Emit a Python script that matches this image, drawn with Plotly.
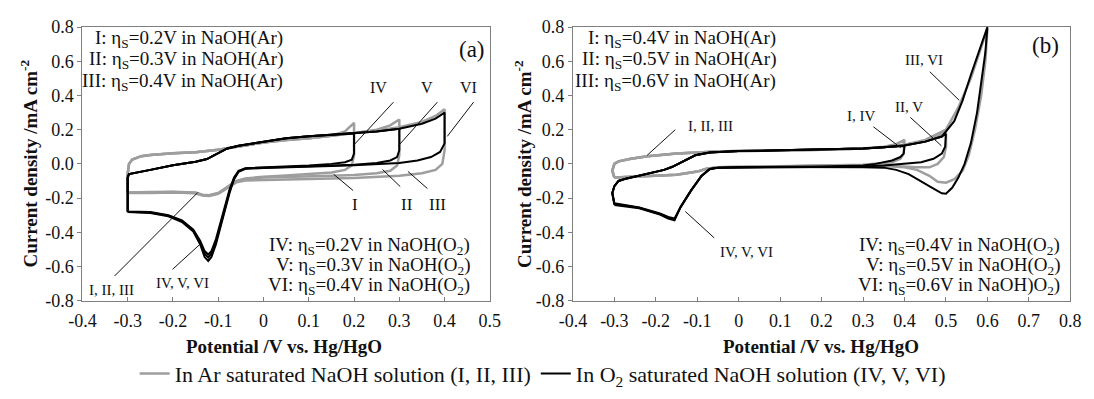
import plotly.graph_objects as go

GRAY = "#9e9e9e"
BLACK = "#000000"
FRAME = "#7f7f7f"
FONT = "Liberation Serif"

# ---------------- Panel (a) data : potential E (V), current j (mA cm-2) ----------------
a_I_E = [-0.30, -0.30, -0.297, -0.29, -0.27, -0.25, -0.20, -0.15, -0.10, -0.05, 0.00, 0.05, 0.10, 0.15, 0.18, 0.20,
         0.20, 0.195, 0.18, 0.15, 0.10, 0.05, 0.00, -0.04, -0.06, -0.08, -0.10, -0.12, -0.135, -0.15, -0.20, -0.25, -0.30]
a_I_j = [-0.167, -0.06, 0.00, 0.025, 0.045, 0.052, 0.062, 0.068, 0.082, 0.105, 0.125, 0.14, 0.15, 0.165, 0.19, 0.24,
         0.05, -0.01, -0.035, -0.05, -0.06, -0.068, -0.075, -0.085, -0.10, -0.135, -0.17, -0.183, -0.18, -0.168, -0.163, -0.165, -0.167]

a_II_E = [-0.30, -0.30, -0.297, -0.29, -0.27, -0.25, -0.20, -0.15, -0.10, -0.05, 0.00, 0.05, 0.10, 0.15, 0.20, 0.25, 0.28, 0.30,
          0.30, 0.295, 0.28, 0.25, 0.20, 0.15, 0.10, 0.05, 0.00, -0.04, -0.06, -0.08, -0.10, -0.12, -0.135, -0.15, -0.20, -0.25, -0.30]
a_II_j = [-0.167, -0.06, 0.00, 0.025, 0.045, 0.052, 0.062, 0.068, 0.082, 0.105, 0.125, 0.14, 0.15, 0.165, 0.18, 0.20, 0.225, 0.26,
          0.05, -0.01, -0.04, -0.055, -0.065, -0.07, -0.072, -0.075, -0.08, -0.088, -0.103, -0.138, -0.172, -0.185, -0.182, -0.17, -0.165, -0.167, -0.169]

a_III_E = [-0.30, -0.30, -0.297, -0.29, -0.27, -0.25, -0.20, -0.15, -0.10, -0.05, 0.00, 0.05, 0.10, 0.15, 0.20, 0.25, 0.30, 0.35, 0.38, 0.40,
           0.40, 0.395, 0.38, 0.35, 0.30, 0.25, 0.20, 0.15, 0.10, 0.05, 0.00, -0.04, -0.06, -0.08, -0.10, -0.12, -0.135, -0.15, -0.20, -0.25, -0.30]
a_III_j = [-0.167, -0.06, 0.00, 0.025, 0.045, 0.052, 0.062, 0.068, 0.082, 0.105, 0.125, 0.14, 0.15, 0.165, 0.18, 0.195, 0.215, 0.245, 0.28, 0.32,
           0.08, 0.00, -0.035, -0.055, -0.07, -0.078, -0.082, -0.085, -0.088, -0.09, -0.092, -0.097, -0.108, -0.14, -0.175, -0.188, -0.185, -0.172, -0.168, -0.17, -0.171]

a_IV_E = [-0.30, -0.30, -0.297, -0.28, -0.25, -0.20, -0.15, -0.125, -0.10, -0.08, -0.055, -0.02, 0.00, 0.05, 0.10, 0.15, 0.20,
          0.20, 0.195, 0.18, 0.15, 0.10, 0.05, 0.00, -0.04, -0.055, -0.065, -0.075, -0.09, -0.105, -0.115, -0.122, -0.13, -0.14, -0.155, -0.18, -0.21, -0.25, -0.30]
a_IV_j = [-0.278, -0.08, -0.06, -0.05, -0.035, -0.008, 0.012, 0.028, 0.06, 0.09, 0.106, 0.12, 0.13, 0.15, 0.162, 0.17, 0.178,
          0.06, 0.025, 0.01, 0.0, -0.01, -0.015, -0.02, -0.025, -0.04, -0.08, -0.15, -0.30, -0.44, -0.51, -0.53, -0.51, -0.45, -0.385, -0.33, -0.30, -0.282, -0.278]

a_V_E = [-0.30, -0.30, -0.297, -0.28, -0.25, -0.20, -0.15, -0.125, -0.10, -0.08, -0.055, -0.02, 0.00, 0.05, 0.10, 0.15, 0.20, 0.25, 0.30,
         0.30, 0.295, 0.28, 0.25, 0.20, 0.15, 0.10, 0.05, 0.00, -0.04, -0.055, -0.065, -0.075, -0.09, -0.105, -0.115, -0.122, -0.13, -0.14, -0.155, -0.18, -0.21, -0.25, -0.30]
a_V_j = [-0.28, -0.08, -0.06, -0.05, -0.035, -0.008, 0.012, 0.028, 0.06, 0.09, 0.106, 0.12, 0.13, 0.15, 0.162, 0.17, 0.178, 0.19, 0.205,
         0.08, 0.04, 0.02, 0.005, -0.005, -0.01, -0.013, -0.017, -0.022, -0.027, -0.043, -0.085, -0.16, -0.31, -0.455, -0.525, -0.548, -0.525, -0.46, -0.39, -0.335, -0.303, -0.285, -0.28]

a_VI_E = [-0.30, -0.30, -0.297, -0.28, -0.25, -0.20, -0.15, -0.125, -0.10, -0.08, -0.055, -0.02, 0.00, 0.05, 0.10, 0.15, 0.20, 0.25, 0.30, 0.35, 0.38, 0.40,
          0.40, 0.39, 0.37, 0.34, 0.30, 0.25, 0.20, 0.15, 0.10, 0.05, 0.00, -0.04, -0.055, -0.065, -0.075, -0.09, -0.105, -0.115, -0.122, -0.13, -0.14, -0.155, -0.18, -0.21, -0.25, -0.30]
a_VI_j = [-0.282, -0.08, -0.06, -0.05, -0.035, -0.008, 0.012, 0.028, 0.06, 0.09, 0.106, 0.12, 0.13, 0.15, 0.162, 0.17, 0.178, 0.19, 0.205, 0.235, 0.265, 0.30,
          0.12, 0.07, 0.04, 0.02, 0.005, -0.003, -0.008, -0.012, -0.015, -0.019, -0.024, -0.029, -0.046, -0.09, -0.17, -0.32, -0.47, -0.545, -0.568, -0.545, -0.47, -0.395, -0.34, -0.307, -0.288, -0.282]

# ---------------- Panel (b) data ----------------
b_I_E = [-0.30, -0.305, -0.30, -0.29, -0.26, -0.22, -0.15, -0.10, -0.05, 0.00, 0.10, 0.20, 0.30, 0.35, 0.38, 0.40,
         0.398, 0.39, 0.37, 0.33, 0.30, 0.20, 0.10, 0.00, -0.05, -0.08, -0.10, -0.15, -0.20, -0.25, -0.30]
b_I_j = [-0.08, -0.04, 0.00, 0.015, 0.03, 0.045, 0.06, 0.068, 0.072, 0.075, 0.078, 0.082, 0.09, 0.10, 0.115, 0.14,
         0.06, 0.03, 0.01, 0.0, -0.005, -0.01, -0.015, -0.018, -0.02, -0.03, -0.045, -0.063, -0.07, -0.075, -0.08]

b_II_E = [-0.30, -0.305, -0.30, -0.29, -0.26, -0.22, -0.15, -0.10, -0.05, 0.00, 0.10, 0.20, 0.30, 0.35, 0.40, 0.45, 0.48, 0.50,
          0.50, 0.495, 0.48, 0.46, 0.43, 0.40, 0.35, 0.30, 0.20, 0.10, 0.00, -0.05, -0.08, -0.10, -0.15, -0.20, -0.25, -0.30]
b_II_j = [-0.08, -0.04, 0.00, 0.015, 0.03, 0.045, 0.06, 0.068, 0.072, 0.075, 0.078, 0.082, 0.09, 0.098, 0.112, 0.13, 0.16, 0.19,
          0.10, 0.04, 0.0, -0.02, -0.02, -0.015, -0.01, -0.008, -0.01, -0.015, -0.018, -0.02, -0.03, -0.045, -0.063, -0.07, -0.075, -0.08]

b_III_E = [-0.30, -0.305, -0.30, -0.29, -0.26, -0.22, -0.15, -0.10, -0.05, 0.00, 0.10, 0.20, 0.30, 0.35, 0.40, 0.45, 0.50, 0.53, 0.56, 0.58, 0.60,
           0.595, 0.585, 0.57, 0.555, 0.54, 0.52, 0.50, 0.48, 0.46, 0.43, 0.40, 0.35, 0.30, 0.20, 0.10, 0.00, -0.05, -0.08, -0.10, -0.15, -0.20, -0.25, -0.30]
b_III_j = [-0.08, -0.04, 0.00, 0.015, 0.03, 0.045, 0.06, 0.068, 0.072, 0.075, 0.078, 0.082, 0.09, 0.098, 0.112, 0.14, 0.20, 0.33, 0.50, 0.65, 0.79,
           0.60, 0.40, 0.20, 0.05, -0.04, -0.09, -0.11, -0.105, -0.07, -0.035, -0.02, -0.012, -0.01, -0.01, -0.015, -0.018, -0.02, -0.03, -0.045, -0.063, -0.07, -0.075, -0.08]

b_IV_E = [-0.30, -0.305, -0.30, -0.29, -0.27, -0.225, -0.18, -0.16, -0.13, -0.105, -0.07, 0.00, 0.10, 0.20, 0.30, 0.35, 0.40,
          0.398, 0.39, 0.37, 0.33, 0.30, 0.20, 0.10, 0.00, -0.05, -0.07, -0.09, -0.115, -0.14, -0.155, -0.17, -0.19, -0.24, -0.30]
b_IV_j = [-0.23, -0.17, -0.13, -0.10, -0.085, -0.06, -0.035, -0.017, 0.02, 0.05, 0.067, 0.075, 0.079, 0.084, 0.09, 0.097, 0.105,
          0.06, 0.04, 0.02, 0.0, -0.01, -0.016, -0.017, -0.018, -0.022, -0.03, -0.07, -0.155, -0.25, -0.32, -0.31, -0.29, -0.255, -0.23]

b_V_E = [-0.30, -0.305, -0.30, -0.29, -0.27, -0.225, -0.18, -0.16, -0.13, -0.105, -0.07, 0.00, 0.10, 0.20, 0.30, 0.35, 0.40, 0.45, 0.49, 0.50,
         0.498, 0.49, 0.47, 0.44, 0.40, 0.35, 0.30, 0.20, 0.10, 0.00, -0.05, -0.07, -0.09, -0.115, -0.14, -0.155, -0.17, -0.19, -0.24, -0.30]
b_V_j = [-0.235, -0.17, -0.13, -0.10, -0.085, -0.06, -0.035, -0.017, 0.02, 0.05, 0.067, 0.075, 0.079, 0.084, 0.09, 0.097, 0.108, 0.13, 0.16, 0.175,
         0.10, 0.06, 0.03, 0.01, 0.0, -0.01, -0.016, -0.017, -0.018, -0.019, -0.023, -0.031, -0.072, -0.157, -0.253, -0.325, -0.315, -0.293, -0.257, -0.235]

b_VI_E = [-0.30, -0.305, -0.30, -0.29, -0.27, -0.225, -0.18, -0.16, -0.13, -0.105, -0.07, 0.00, 0.10, 0.20, 0.30, 0.35, 0.40, 0.45, 0.49, 0.52, 0.54, 0.56, 0.58, 0.60,
          0.595, 0.587, 0.575, 0.56, 0.545, 0.53, 0.515, 0.50, 0.49, 0.47, 0.44, 0.41, 0.38, 0.35, 0.30, 0.20, 0.10, 0.00, -0.05, -0.07, -0.09, -0.115, -0.14, -0.155, -0.17, -0.19, -0.24, -0.30]
b_VI_j = [-0.24, -0.17, -0.13, -0.10, -0.085, -0.06, -0.035, -0.017, 0.02, 0.05, 0.067, 0.075, 0.079, 0.084, 0.09, 0.097, 0.108, 0.13, 0.16, 0.25, 0.37, 0.52, 0.66, 0.80,
          0.65, 0.50, 0.30, 0.12, 0.0, -0.08, -0.14, -0.175, -0.172, -0.145, -0.10, -0.06, -0.035, -0.022, -0.02, -0.018, -0.017, -0.018, -0.022, -0.03, -0.07, -0.155, -0.25, -0.33, -0.32, -0.297, -0.26, -0.24]

# ---------------- ticks ----------------
a_xticks = [-0.4, -0.3, -0.2, -0.1, 0.0, 0.1, 0.2, 0.3, 0.4, 0.5]
a_xlabels = ["-0.4", "-0.3", "-0.2", "-0.1", "0", "0.1", "0.2", "0.3", "0.4", "0.5"]
b_xticks = [-0.4, -0.3, -0.2, -0.1, 0.0, 0.1, 0.2, 0.3, 0.4, 0.5, 0.6, 0.7, 0.8]
b_xlabels = ["-0.4", "-0.3", "-0.2", "-0.1", "0", "0.1", "0.2", "0.3", "0.4", "0.5", "0.6", "0.7", "0.8"]
yticks = [-0.8, -0.6, -0.4, -0.2, 0.0, 0.2, 0.4, 0.6, 0.8]
ylabels = ["-0.8", "-0.6", "-0.4", "-0.2", "0.0", "0.2", "0.4", "0.6", "0.8"]

fig = go.Figure()

def add(E, j, color, width, xa, ya, name=None, show=False):
    fig.add_trace(go.Scatter(x=E, y=j, mode="lines", line=dict(color=color, width=width),
                             xaxis=xa, yaxis=ya, name=name, showlegend=show, hoverinfo="skip"))

add(a_I_E, a_I_j, GRAY, 2.5, "x", "y", "In Ar saturated NaOH solution (I, II, III)", True)
add(a_II_E, a_II_j, GRAY, 2.5, "x", "y")
add(a_III_E, a_III_j, GRAY, 2.5, "x", "y")
add(b_I_E, b_I_j, GRAY, 2.5, "x2", "y2")
add(b_II_E, b_II_j, GRAY, 2.5, "x2", "y2")
add(b_III_E, b_III_j, GRAY, 2.5, "x2", "y2")
add(a_IV_E, a_IV_j, BLACK, 2, "x", "y", "In O<sub>2</sub> saturated NaOH solution (IV, V, VI)", True)
add(a_V_E, a_V_j, BLACK, 2, "x", "y")
add(a_VI_E, a_VI_j, BLACK, 2, "x", "y")
add(b_IV_E, b_IV_j, BLACK, 2, "x2", "y2")
add(b_V_E, b_V_j, BLACK, 2, "x2", "y2")
add(b_VI_E, b_VI_j, BLACK, 2, "x2", "y2")

W, H = 1094, 399
ydom = [1 - 306 / H, 1 - 18 / H]
axis_common = dict(showgrid=False, zeroline=False, showline=True, linecolor=FRAME, linewidth=1,
                   mirror=True, tickfont=dict(family=FONT, size=18, color="#111"), ticklen=4, tickcolor=FRAME)

fig.update_layout(
    width=W, height=H, margin=dict(l=0, r=0, t=0, b=0),
    paper_bgcolor="white", plot_bgcolor="white",
    font=dict(family=FONT, color="#111"),
    xaxis=dict(domain=[70 / W, 487 / W], range=[-0.4, 0.5], tickvals=a_xticks, ticktext=a_xlabels,
               ticks="inside", anchor="y", ticklabelstandoff=4, **axis_common),
    yaxis=dict(domain=ydom, range=[-0.8, 0.8], tickvals=yticks, ticktext=ylabels, ticks="outside",
               anchor="x", **axis_common),
    xaxis2=dict(domain=[572 / W, 1081 / W], range=[-0.4, 0.8], tickvals=b_xticks, ticktext=b_xlabels,
                ticks="inside", anchor="y2", ticklabelstandoff=4, **axis_common),
    yaxis2=dict(domain=ydom, range=[-0.8, 0.8], tickvals=yticks, ticktext=ylabels, ticks="outside",
                anchor="x2", **axis_common),
    legend=dict(orientation="h", x=541 / W, xanchor="center", y=1 - 383 / H, yanchor="middle",
                font=dict(family=FONT, size=22, color="#111"), itemwidth=30, tracegroupgap=0,
                bgcolor="rgba(0,0,0,0)"),
)

ann = []
def txt(x, y, s, xref, yref, size=16, xanchor="center", bold=False, angle=0):
    ann.append(dict(x=x, y=y, xref=xref, yref=yref, text=("<b>%s</b>" % s) if bold else s, showarrow=False,
                    xanchor=xanchor, yanchor="middle", textangle=angle,
                    font=dict(family=FONT, size=size, color="#111")))

shapes = []
def line(x0, y0, x1, y1, xref, yref):
    shapes.append(dict(type="line", x0=x0, y0=y0, x1=x1, y1=y1, xref=xref, yref=yref,
                       line=dict(color="#111", width=1)))

eta = "η<sub>S</sub>"
# panel (a) text blocks
for k, (lab, v) in enumerate([("I", "0.2"), ("II", "0.3"), ("III", "0.4")]):
    txt(0.047, 0.733 - k * 0.128, "%s: %s=%sV in NaOH(Ar)" % (lab, eta, v), "x", "y", 19, "right")
for k, (lab, v) in enumerate([("IV", "0.2"), ("V", "0.3"), ("VI", "0.4")]):
    txt(0.46, -0.478 - k * 0.117, "%s: %s=%sV in NaOH(O<sub>2</sub>)" % (lab, eta, v), "x", "y", 19, "right")
txt(0.46, 0.667, "(a)", "x", "y", 23)
txt(0.254, 0.444, "IV", "x", "y", 16); line(0.287, 0.361, 0.198, 0.106, "x", "y")
txt(0.362, 0.444, "V", "x", "y", 16); line(0.384, 0.361, 0.298, 0.106, "x", "y")
txt(0.453, 0.444, "VI", "x", "y", 16); line(0.464, 0.361, 0.406, 0.161, "x", "y")
txt(0.203, -0.239, "I", "x", "y", 17); line(0.155, -0.061, 0.198, -0.156, "x", "y")
txt(0.317, -0.239, "II", "x", "y", 17); line(0.263, -0.033, 0.302, -0.133, "x", "y")
txt(0.384, -0.239, "III", "x", "y", 17); line(0.319, -0.044, 0.362, -0.144, "x", "y")
txt(-0.335, -0.739, "I, II, III", "x", "y", 15); line(-0.329, -0.656, -0.145, -0.167, "x", "y")
txt(-0.18, -0.694, "IV, V, VI", "x", "y", 15); line(-0.201, -0.617, -0.141, -0.472, "x", "y")

# panel (b) text blocks
for k, (lab, v) in enumerate([("I", "0.4"), ("II", "0.5"), ("III", "0.6")]):
    txt(0.094, 0.733 - k * 0.128, "%s: %s=%sV in NaOH(Ar)" % (lab, eta, v), "x2", "y2", 19, "right")
lines_b = ["IV: %s=0.4V in NaOH(O<sub>2</sub>)" % eta, "V: %s=0.5V in NaOH(O<sub>2</sub>)" % eta,
           "VI: %s=0.6V in NaOH)O<sub>2</sub>)" % eta]
for k, s in enumerate(lines_b):
    txt(0.779, -0.478 - k * 0.117, s, "x2", "y2", 19, "right")
txt(0.741, 0.694, "(b)", "x2", "y2", 23)
txt(-0.068, 0.222, "I, II, III", "x2", "y2", 15); line(-0.153, 0.2, -0.221, 0.05, "x2", "y2")
txt(0.447, 0.606, "III, VI", "x2", "y2", 15); line(0.461, 0.539, 0.532, 0.372, "x2", "y2")
txt(0.412, 0.333, "II, V", "x2", "y2", 15); line(0.414, 0.272, 0.489, 0.106, "x2", "y2")
txt(0.296, 0.278, "I, IV", "x2", "y2", 15); line(0.325, 0.217, 0.391, 0.094, "x2", "y2")
txt(0.019, -0.517, "IV, V, VI", "x2", "y2", 15); line(-0.059, -0.433, -0.129, -0.278, "x2", "y2")

# axis titles
ytitle = "Current density /mA cm<sup>-2</sup>"
xtitle = "Potential /V vs. Hg/HgO"
txt(15 / W, 1 - 162 / H, ytitle, "paper", "paper", 19, "center", True, -90)
txt(521 / W, 1 - 162 / H, ytitle, "paper", "paper", 19, "center", True, -90)
txt(276 / W, 1 - 354 / H, xtitle, "paper", "paper", 19, "center", True)
txt(826 / W, 1 - 354 / H, xtitle, "paper", "paper", 19, "center", True)

fig.update_layout(annotations=ann, shapes=shapes)
fig.write_html("out.html", config={"displayModeBar": False},
               post_script="document.body.style.margin='0px';document.body.style.overflow='hidden';")
